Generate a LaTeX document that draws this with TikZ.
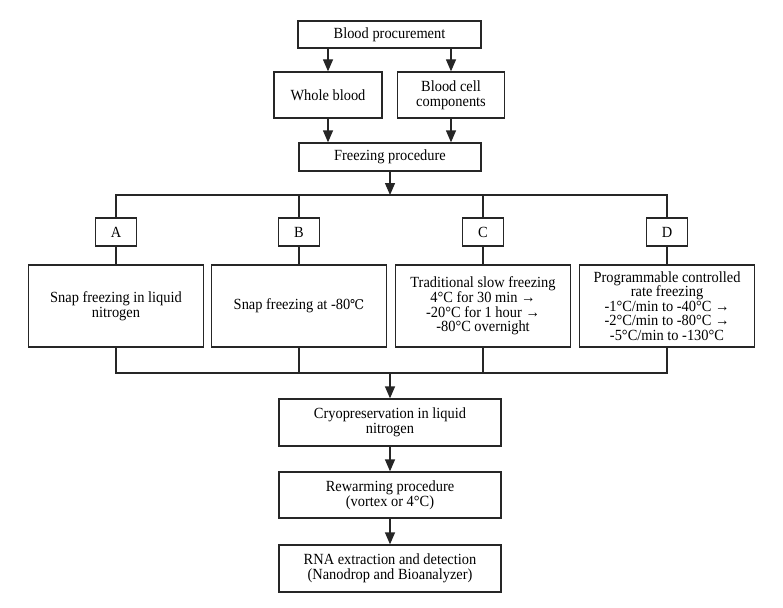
\documentclass[tikz,border=0pt]{standalone}
\usepackage{fontspec}
\setmainfont[FakeStretch=0.93]{Liberation Serif}
\newfontfamily\symfont[FakeStretch=0.93]{DejaVu Serif}
\usetikzlibrary{arrows.meta}
\begin{document}
\begin{tikzpicture}[x=1pt,y=-1pt,line width=1.3pt,draw=black!85,
 box/.style={draw=black!85,align=center,inner sep=0pt,font=\fontsize{15.5}{14.6}\selectfont},
 letter/.style={box,minimum width=41pt,minimum height=28pt},
 big/.style={box,minimum width=175pt,minimum height=82pt},
 arr/.style={-{Triangle[width=10pt,length=12pt]}}]
\useasboundingbox[fill=white] (0,0) rectangle (783,607);
% top part
\node[box,minimum width=183pt,minimum height=27pt] (top) at (389.5,34.5) {Blood procurement};
\node[box,minimum width=108pt,minimum height=46pt] (whole) at (328,95) {Whole blood};
\node[box,minimum width=107pt,minimum height=46pt] (cells) at (451,95) {Blood cell\\components};
\node[box,minimum width=182pt,minimum height=28pt] (freeze) at (390,157) {Freezing procedure};
\draw[arr] (top.south -| whole.north) -- (whole.north);
\draw[arr] (top.south -| cells.north) -- (cells.north);
\draw[arr] (whole.south) -- (freeze.north -| whole.south);
\draw[arr] (cells.south) -- (freeze.north -| cells.south);
% branches
\coordinate (jt) at (390,195);
\coordinate (jb) at (390,373);
\node[letter] (A) at (116,232) {A};
\node[letter] (B) at (299,232) {B};
\node[letter] (C) at (483,232) {C};
\node[letter] (D) at (667,232) {D};
\node[big] (bA) at (116,306) {Snap freezing in liquid\\nitrogen};
\node[big] (bB) at (299,306) {Snap freezing at -80{\symfont\fontsize{13.5}{14}\selectfont ℃}};
\node[big] (bC) at (483,306) {Traditional slow freezing\\4°C for 30 min →\\-20°C for 1 hour →\\-80°C overnight};
\node[big] (bD) at (667,306) {Programmable controlled\\rate freezing\\-1°C/min to -40°C →\\-2°C/min to -80°C →\\-5°C/min to -130°C};
\draw[arr] (freeze.south) -- (jt);
\draw (A.north) -- (jt -| A.north) -- (jt -| D.north) -- (D.north);
\draw (B.north) -- (jt -| B.north);
\draw (C.north) -- (jt -| C.north);
\foreach \n in {A,B,C,D}{\draw (\n.south) -- (b\n.north);}
\draw (bA.south) -- (jb -| bA.south) -- (jb -| bD.south) -- (bD.south);
\draw (bB.south) -- (jb -| bB.south);
\draw (bC.south) -- (jb -| bC.south);
% bottom part
\node[box,minimum width=222pt,minimum height=47pt] (cryo) at (390,422.5) {Cryopreservation in liquid\\nitrogen};
\node[box,minimum width=222pt,minimum height=46pt] (rew) at (390,495) {Rewarming procedure\\(vortex or 4°C)};
\node[box,minimum width=222pt,minimum height=47pt] (rna) at (390,568.5) {RNA extraction and detection\\(Nanodrop and Bioanalyzer)};
\draw[arr] (jb) -- (cryo.north);
\draw[arr] (cryo.south) -- (rew.north);
\draw[arr] (rew.south) -- (rna.north);
\end{tikzpicture}
\end{document}
